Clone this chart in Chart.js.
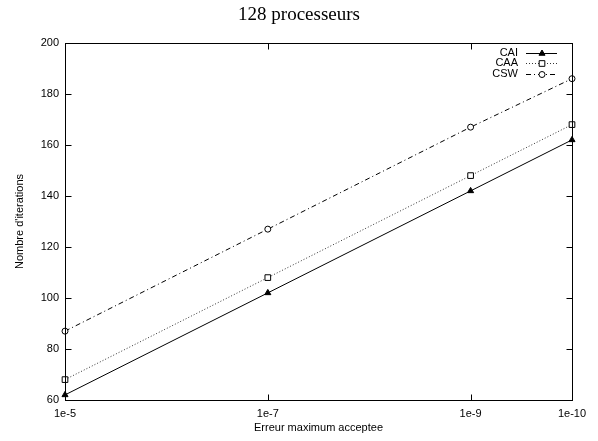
<!DOCTYPE html>
<html><head><meta charset="utf-8">
<script src="https://cdn.jsdelivr.net/npm/chart.js@4"></script>
<style>html,body{margin:0;padding:0;background:#fff}#wrap{width:598px;height:441px}</style>
</head><body><div id="wrap"><canvas id="c" width="598" height="441"></canvas></div>
<script>
const categories = ['1e-5', '1e-7', '1e-9', '1e-10'];
const cai = [62, 102, 142, 162];
const caa = [68, 108, 148, 168];
const csw = [87, 127, 167, 186];
const yTicks = [60, 80, 100, 120, 140, 160, 180, 200];
const seriesNames = ['CAI', 'CAA', 'CSW'];
const chartTitle = '128 processeurs';
const xTitle = 'Erreur maximum acceptee';
const yTitle = "Nombre d'iterations";

const xPos = categories.map(c => Math.round(-Math.log10(parseFloat(c))));
const FONT = '"Liberation Sans", Arial, sans-serif';

const frame = {
  id: 'frame',
  afterDraw(chart) {
    const ctx = chart.ctx, a = chart.chartArea;
    const xs = chart.scales.x, ys = chart.scales.y;
    ctx.save();
    ctx.strokeStyle = '#000'; ctx.lineWidth = 1; ctx.setLineDash([]);
    const L = Math.round(a.left) + 0.5, R = Math.round(a.right) + 0.5;
    const T = Math.round(a.top) + 0.5, B = Math.round(a.bottom) + 0.5;
    ctx.strokeRect(L, T, R - L, B - T);
    const tl = 6;
    ctx.beginPath();
    xs.ticks.forEach(t => {
      const px = Math.round(xs.getPixelForValue(t.value)) + 0.5;
      ctx.moveTo(px, B); ctx.lineTo(px, B - tl);
      ctx.moveTo(px, T); ctx.lineTo(px, T + tl);
    });
    ys.ticks.forEach(t => {
      const py = Math.round(ys.getPixelForValue(t.value)) + 0.5;
      ctx.moveTo(L, py); ctx.lineTo(L + tl, py);
      ctx.moveTo(R, py); ctx.lineTo(R - tl, py);
    });
    ctx.stroke();
    // title
    ctx.fillStyle = '#000';
    ctx.font = '19px "Liberation Serif", "Times New Roman", serif';
    ctx.textAlign = 'center'; ctx.textBaseline = 'middle';
    ctx.fillText(chartTitle, 299, 15);
    // legend
    ctx.font = '11px ' + FONT;
    ctx.textAlign = 'right';
    chart.data.datasets.forEach((ds, i) => {
      const y = 52.5 + i * 10.7;
      ctx.fillStyle = '#000';
      ctx.fillText(ds.label, 518, y);
      ctx.strokeStyle = ds.borderColor;
      ctx.setLineDash(ds.borderDash || []);
      ctx.beginPath(); ctx.moveTo(526, Math.round(y) + 0.5); ctx.lineTo(557, Math.round(y) + 0.5); ctx.stroke();
      ctx.setLineDash([]);
      ctx.strokeStyle = '#000';
      ctx.fillStyle = ds.pointBackgroundColor;
      Chart.helpers.drawPoint(ctx, {pointStyle: ds.pointStyle, radius: ds.pointRadius, rotation: 0, borderWidth: 1}, 542, Math.round(y) + 0.5);
    });
    ctx.restore();
  }
};

function mk(label, vals, style) {
  return Object.assign({
    label,
    data: xPos.map((x, i) => ({x, y: vals[i]})),
    borderWidth: 1,
    tension: 0,
    clip: false,
    pointBorderColor: '#000',
    pointBorderWidth: 1,
    pointHoverRadius: 0
  }, style);
}

new Chart(document.getElementById('c'), {
  type: 'line',
  data: {
    datasets: [
      mk(seriesNames[0], cai, {borderColor: '#000', pointStyle: 'triangle', pointRadius: 3.5, pointBackgroundColor: '#000'}),
      mk(seriesNames[1], caa, {borderColor: '#333', borderDash: [1, 2], pointStyle: 'rect', pointRadius: 4, pointBackgroundColor: '#fff'}),
      mk(seriesNames[2], csw, {borderColor: '#000', borderDash: [5, 3, 1, 3], pointStyle: 'circle', pointRadius: 3, pointBackgroundColor: '#fff'})
    ]
  },
  options: {
    responsive: false,
    animation: false,
    devicePixelRatio: 1,
    layout: {padding: {top: 43, right: 26, left: 0, bottom: 0}},
    plugins: {legend: {display: false}, tooltip: {enabled: false}, title: {display: false}},
    scales: {
      x: {
        type: 'linear', min: 5, max: 10,
        afterBuildTicks: s => { s.ticks = xPos.map(v => ({value: v})); },
        afterFit: s => { s.height = 41; },
        grid: {display: false, drawTicks: false},
        border: {display: false},
        ticks: {
          autoSkip: false, maxRotation: 0, padding: 7, color: '#000',
          font: {family: FONT, size: 11},
          callback: v => categories[xPos.indexOf(Math.round(v))]
        },
        title: {display: true, text: xTitle, color: '#000', font: {family: FONT, size: 11}, padding: {top: 0, bottom: 6}}
      },
      y: {
        type: 'linear', min: 60, max: 200,
        afterBuildTicks: s => { s.ticks = yTicks.map(v => ({value: v})); },
        afterFit: s => { s.width = 65; },
        grid: {display: false, drawTicks: false},
        border: {display: false},
        ticks: {padding: 6, color: '#000', font: {family: FONT, size: 11}},
        title: {display: true, text: yTitle, color: '#000', font: {family: FONT, size: 11}, padding: {top: 13, bottom: 0}}
      }
    }
  },
  plugins: [frame]
});
</script>
</body></html>
